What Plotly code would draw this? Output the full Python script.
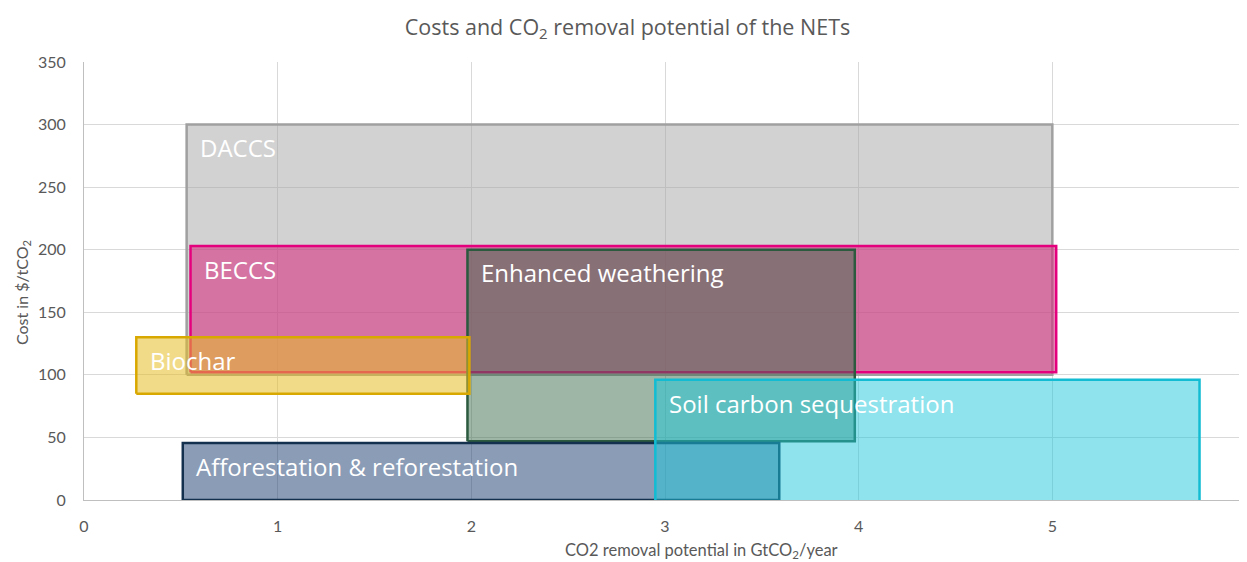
import plotly.graph_objects as go

names = ["DACCS", "BECCS", "Enhanced weathering", "Biochar",
         "Afforestation & reforestation", "Soil carbon sequestration"]
x_min = [0.53, 0.55, 1.98, 0.27, 0.51, 2.95]
x_max = [5.00, 5.02, 3.98, 1.99, 3.59, 5.76]
cost_min = [100, 102, 47, 85, 0, -3]
cost_max = [300, 203, 200, 130, 45.5, 96]
fills = ["rgba(165,165,165,0.5)", "rgba(215,37,122,0.55)", "rgba(60,110,75,0.5)",
         "rgba(230,190,40,0.55)", "rgba(30,65,115,0.52)", "rgba(30,200,220,0.5)"]
borders = ["#a0a0a0", "#e4007c", "#2b5a3f", "#d9a800", "#14304f", "#12bcd3"]

x_ticks = [0, 1, 2, 3, 4, 5, 6]
y_ticks = [0, 50, 100, 150, 200, 250, 300, 350]

fig = go.Figure()
for n, a, b, c, d, f, l in zip(names, x_min, x_max, cost_min, cost_max, fills, borders):
    fig.add_trace(go.Scatter(
        x=[a, b, b, a, a], y=[c, c, d, d, c], mode="lines", fill="toself",
        fillcolor=f, line=dict(color=l, width=2.5), name=n, showlegend=False,
        hoverinfo="name"))
    fig.add_annotation(x=a + 0.06, y=d - 18.5, text=n, showarrow=False,
                       xanchor="left", yanchor="middle",
                       font=dict(color="white", size=24, family="Open Sans"))

# axis titles (placed as in the reference, slightly off-centre)
fig.add_annotation(text="CO2 removal potential in GtCO<sub>2</sub>/year", xref="paper",
                   yref="paper", x=0.5318, y=0, yshift=-50, xanchor="center",
                   yanchor="middle", showarrow=False,
                   font=dict(size=16.5, color="#595959", family="Lato"))
fig.add_annotation(text="Cost in $/tCO<sub>2</sub>", xref="paper", yref="paper",
                   x=0, xshift=-62, y=0.4726, xanchor="center", yanchor="middle",
                   textangle=-90, showarrow=False,
                   font=dict(size=16, color="#595959", family="Lato"))

fig.update_layout(
    width=1239, height=554,
    margin=dict(l=76, r=1, t=54, b=62, autoexpand=False),
    paper_bgcolor="white", plot_bgcolor="white",
    font=dict(family="Lato", color="#595959", size=16),
    title=dict(text="Costs and CO<sub>2</sub> removal potential of the NETs",
               x=0.5, xref="container", y=0.965, yanchor="middle", xanchor="center",
               font=dict(size=21.5, color="#595959", family="Open Sans")),
)
fig.update_xaxes(range=[0, 6], tickvals=x_ticks, showgrid=True, gridcolor="#d9d9d9",
                 gridwidth=1, showline=True, linecolor="#bfbfbf", zeroline=False,
                 tickfont=dict(size=16, color="#595959"), ticks="",
                 ticklabelstandoff=12, automargin=False, ticklabeloverflow="allow")
fig.update_yaxes(range=[0, 350], tickvals=y_ticks, showgrid=True, gridcolor="#d9d9d9",
                 gridwidth=1, showline=True, linecolor="#bfbfbf", zeroline=False,
                 tickfont=dict(size=16, color="#595959"), ticks="",
                 ticklabelstandoff=14, automargin=False)

fig.write_html("out.html")
